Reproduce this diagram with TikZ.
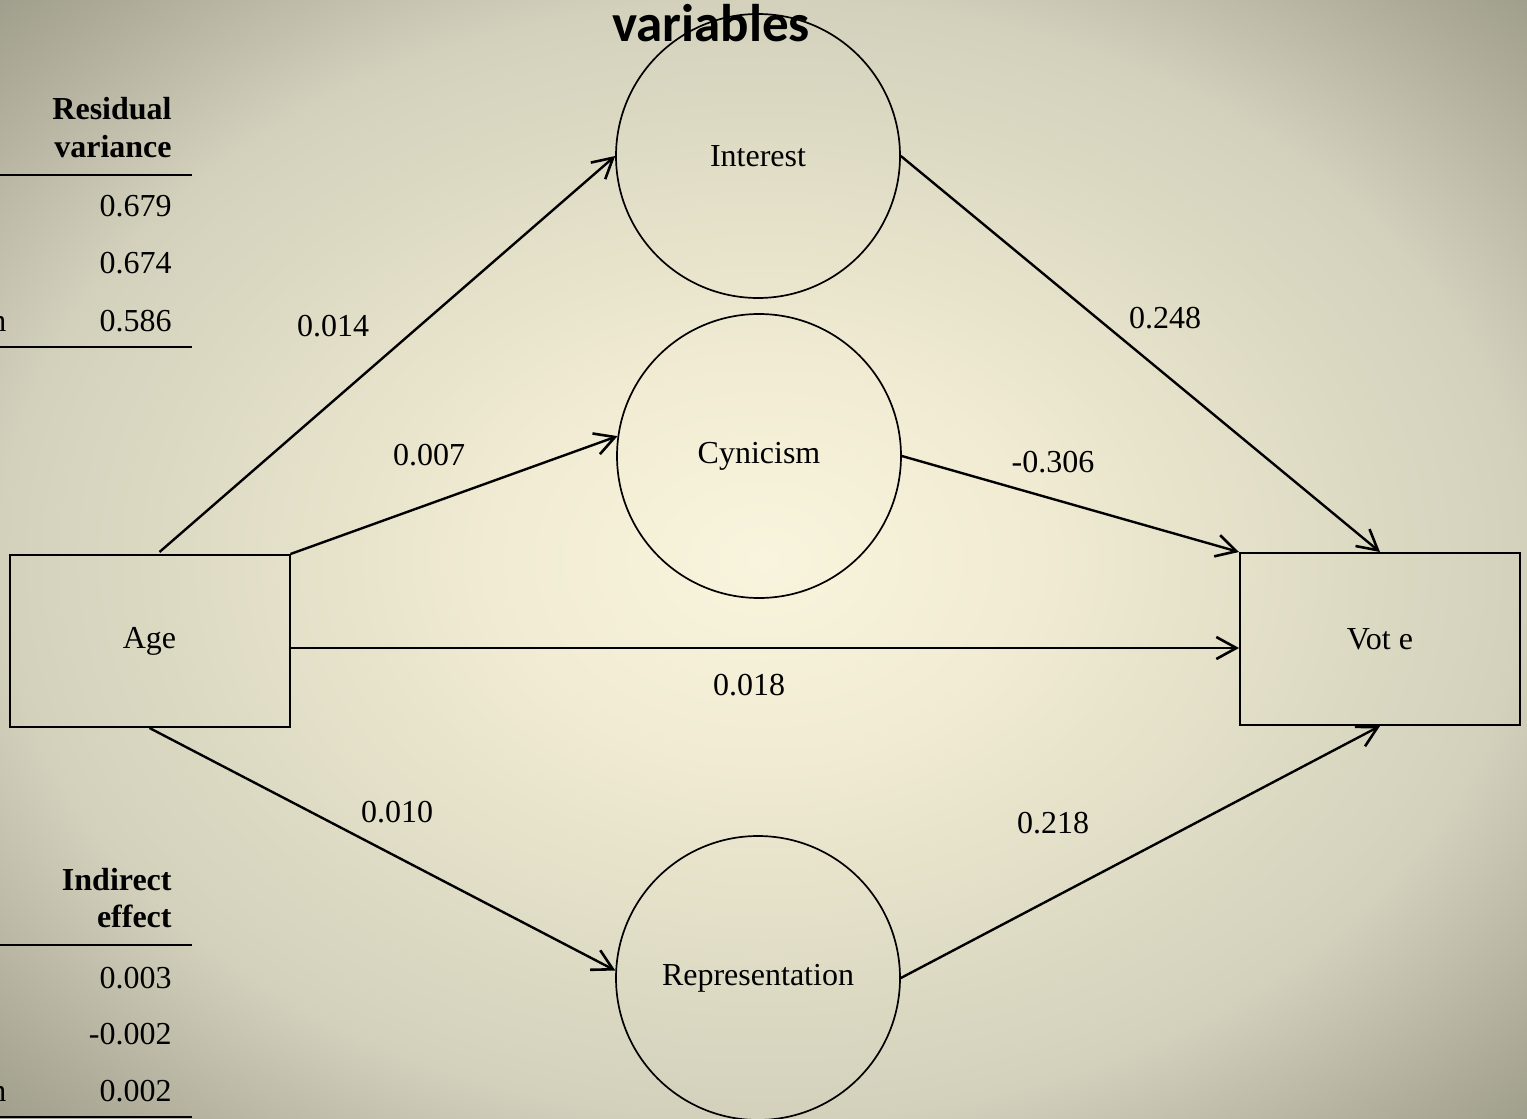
\documentclass[tikz,border=0pt]{standalone}
\usepackage{fontspec}
\setmainfont{Liberation Serif}
\newfontfamily\titlefont{Carlito}
\usetikzlibrary{arrows.meta,calc}
\definecolor{bgA}{HTML}{F9F4DD}
\definecolor{bgB}{HTML}{F0EBD2}
\definecolor{bgC}{HTML}{D3D1BC}
\definecolor{bgD}{HTML}{9D9B89}
\pgfdeclareradialshading{bgshade}{\pgfpoint{0bp}{0bp}}{color(0bp)=(bgA); color(9bp)=(bgB); color(25bp)=(bgC); color(36bp)=(bgD); color(50bp)=(bgD)}
\tikzset{
  lbl/.style={font=\fontsize{16pt}{19pt}\selectfont, inner sep=0pt},
  hdr/.style={font=\fontsize{16pt}{19pt}\selectfont\bfseries, inner sep=0pt, anchor=base east},
  val/.style={font=\fontsize{16pt}{19pt}\selectfont, inner sep=0pt, anchor=base east},
  latent/.style={circle, draw, line width=0.85pt, minimum size=142pt, inner sep=0pt, font=\fontsize{16pt}{19pt}\selectfont},
  obs/.style={rectangle, draw, line width=1pt, minimum width=140pt, minimum height=86pt, inner sep=0pt, font=\fontsize{16pt}{19pt}\selectfont},
  arr/.style={line width=1.2pt, -{Straight Barb[length=10pt,width=11pt,line width=1.3pt]}},
  rule/.style={line width=1.4pt}
}
\begin{document}
\begin{tikzpicture}[x=0.5pt,y=-0.5pt]
\useasboundingbox (0,0) rectangle (1527,1119);
\clip (0,0) rectangle (1527,1119);
\shade[shading=bgshade] (0,0) rectangle (1527,1119);

% title fragment
\node[font=\titlefont\fontsize{26.5pt}{30pt}\selectfont\bfseries, inner sep=0pt, anchor=base] (title) at (711,41) {variables};

% latent variables
\node[latent] (int) at (758,156) {Interest};
\node[latent] (cyn) at (759,456) {Cynicism};
\node[latent] (rep) at (758,978) {Representation};

% observed
\node[obs] (age) at (149.5,641) {\raisebox{-2.5pt}{Age}};
\node[obs] (vote) at (1380,639) {Vot e};

% connectors
\draw[arr] ($(age.north)+(10,-2)$) -- (int.west);
\draw[arr] (age.north east) -- (cyn.172);
\draw[arr] ($(age.east)+(0,7)$) -- ($(vote.west)+(0,9)$);
\draw[arr] (age.south) -- (rep.177);
\draw[arr] (int.east) -- (vote.north);
\draw[arr] (cyn.east) -- (vote.north west);
\draw[arr] (rep.east) -- (vote.south);

% path labels
\node[lbl] (l1) at (333,326) {0.014};
\node[lbl] (l2) at (429,455) {0.007};
\node[lbl] (l3) at (749,685) {0.018};
\node[lbl] (l4) at (397,812) {0.010};
\node[lbl] (l5) at (1165,318) {0.248};
\node[lbl] (l6) at (1053,462) {-0.306};
\node[lbl] (l7) at (1053,823) {0.218};

% residual variance table
\node[hdr] (h1) at (172,119) {Residual};
\node[hdr] (h2) at (172,157) {variance};
\draw[rule] (0,175) -- (192,175);
\node[val] (r1) at (172,216) {0.679};
\node[val] (r2) at (172,273) {0.674};
\node[val] (r3) at (172,331) {0.586};
\node[lbl, anchor=base west] (r3n) at (-186,331) {Representation};
\draw[rule] (0,347) -- (192,347);

% indirect effect table
\node[hdr] (h3) at (172,890) {Indirect};
\node[hdr] (h4) at (172,927) {effect};
\draw[rule] (0,945) -- (192,945);
\node[val] (i1) at (172,988) {0.003};
\node[val] (i2) at (172,1044) {-0.002};
\node[val] (i3) at (172,1101) {0.002};
\node[lbl, anchor=base west] (i3n) at (-186,1101) {Representation};
\draw[rule] (0,1117) -- (192,1117);
\end{tikzpicture}
\end{document}
